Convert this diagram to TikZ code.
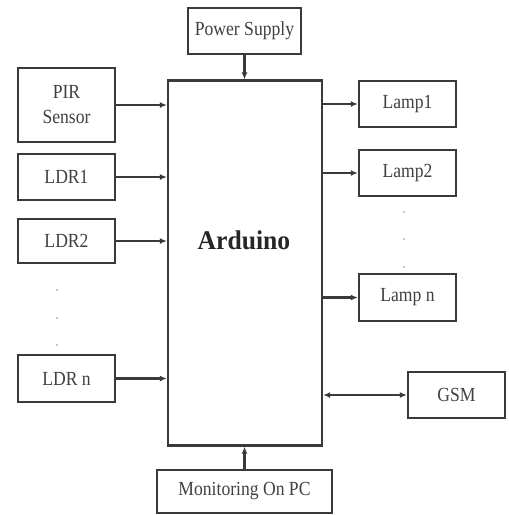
\documentclass[tikz,border=0pt]{standalone}
\usepackage{fontspec}
\setmainfont{Liberation Serif}
\newfontfamily\lblfont[FakeStretch=0.88]{Liberation Serif}
\newfontfamily\ardfont[FakeStretch=0.95]{Liberation Serif}
\usetikzlibrary{arrows.meta}
\definecolor{ink}{HTML}{3A3A3A}
\definecolor{txt}{HTML}{404040}
\begin{document}
\begin{tikzpicture}[x=1pt,y=-1pt,
  box/.style={draw=ink, line width=2.3pt, rectangle, inner sep=0pt, text=txt,
    font=\lblfont\fontsize{20}{25}\selectfont, align=center},
  conn/.style={draw=ink, line width=2.2pt, -{Latex[length=7pt,width=6pt]}},
  dot/.style={circle, fill=gray!60, inner sep=0pt, minimum size=2.2pt}]
\useasboundingbox (0,0) rectangle (509,515);
% main block
\node[box, minimum width=154, minimum height=365] (ard) at (245,263) {};
\node[text=black!85, font=\ardfont\bfseries\fontsize{27}{30}\selectfont] (ardtxt) at (244,240) {Arduino};
% top / bottom
\node[box, minimum width=113, minimum height=46] (ps) at (244.5,31) {Power Supply};
\node[box, minimum width=175, minimum height=43] (pc) at (244.5,491.5) {Monitoring On PC};
% inputs
\node[box, minimum width=97, minimum height=74] (pir) at (66.5,105) {PIR\\Sensor};
\node[box, minimum width=97, minimum height=46] (ldr1) at (66.5,177) {LDR1};
\node[box, minimum width=97, minimum height=44] (ldr2) at (66.5,241) {LDR2};
\node[box, minimum width=97, minimum height=47] (ldrn) at (66.5,378.5) {LDR n};
% outputs
\node[box, minimum width=97, minimum height=46] (l1) at (407.5,104) {Lamp1};
\node[box, minimum width=97, minimum height=46] (l2) at (407.5,173) {Lamp2};
\node[box, minimum width=97, minimum height=47] (ln) at (407.5,297.5) {Lamp n};
\node[box, minimum width=97, minimum height=46] (gsm) at (456.5,395) {GSM};
% connectors
\draw[conn] (ps.south) -- (ps.south |- ard.north);
\draw[conn] (pc.north) -- (pc.north |- ard.south);
\draw[conn] (pir.east) -- (pir.east -| ard.west);
\draw[conn] (ldr1.east) -- (ldr1.east -| ard.west);
\draw[conn] (ldr2.east) -- (ldr2.east -| ard.west);
\draw[conn] (ldrn.east) -- (ldrn.east -| ard.west);
\draw[conn] (ard.east |- l1.west) -- (l1.west);
\draw[conn] (ard.east |- l2.west) -- (l2.west);
\draw[conn] (ard.east |- ln.west) -- (ln.west);
\draw[conn, {Latex[length=7pt,width=6pt]}-{Latex[length=7pt,width=6pt]}] (ard.east |- gsm.west) -- (gsm.west);
% dots
\node[dot] (d1) at (57,290) {};
\node[dot] (d2) at (57,318) {};
\node[dot] (d3) at (57,345) {};
\node[dot] (d4) at (404,212) {};
\node[dot] (d5) at (404,239) {};
\node[dot] (d6) at (404,267) {};
\end{tikzpicture}
\end{document}
